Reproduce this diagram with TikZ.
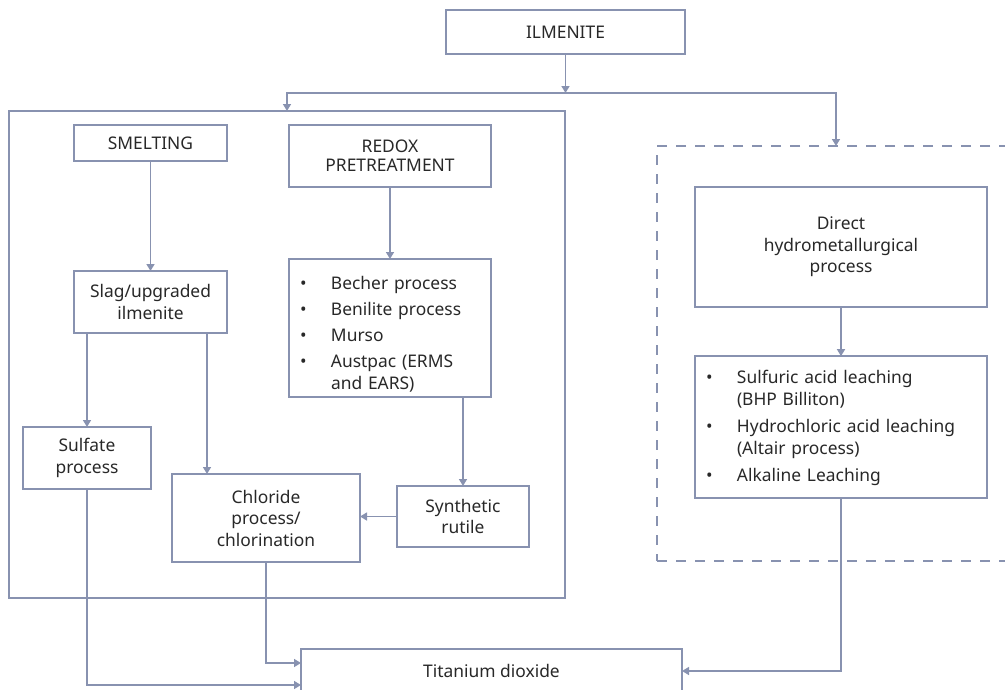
\documentclass[tikz,border=0pt]{standalone}
\usepackage{fontspec}
\setmainfont{Noto Sans}
\usetikzlibrary{arrows.meta,calc}
\definecolor{ln}{RGB}{136,146,176}
\definecolor{tx}{RGB}{40,40,40}
\newlength{\listind}\setlength{\listind}{32pt}
\newcommand{\bitem}[1]{\par\hangindent=\listind\hangafter=1\noindent\makebox[\listind][l]{\hspace{1pt}\textbullet}#1\par}
\begin{document}
\begin{tikzpicture}[x=1pt,y=-1pt,
  box/.style={draw=ln, line width=1.4pt, rectangle, inner sep=0pt, outer sep=0pt, align=center, text=tx, font=\fontsize{17.4}{21.5}\selectfont},
  listbox/.style={box, align=left, text width=#1, inner xsep=10pt},
  arr/.style={draw=ln, line width=1.5pt, -{Triangle[length=7pt,width=8pt]}},
  frame/.style={draw=ln, line width=2.8pt, rectangle, inner sep=0pt, outer sep=0pt}]
\useasboundingbox (0,0) rectangle (1005,689);
\clip (0,0) rectangle (1005,689);
% group frames
\node[frame, minimum width=556pt, minimum height=487pt] (grp) at (287,354.5) {};
\node[frame, dash pattern=on 10pt off 9pt, minimum width=358pt, minimum height=415pt] (hyd) at (836,353.5) {};
% nodes
\node[box, minimum width=239pt, minimum height=44pt] (ilm) at (565.5,32) {ILMENITE};
\node[box, minimum width=153pt, minimum height=36pt] (smelt) at (150.5,143) {SMELTING};
\node[box, minimum width=202pt, minimum height=62pt, font=\fontsize{17.4}{19}\selectfont] (redox) at (390,156) {REDOX\\PRETREATMENT};
\node[box, minimum width=153pt, minimum height=62pt] (slag) at (150.5,302) {Slag/upgraded\\ilmenite};
\node[listbox=182pt, minimum height=138pt] (rlist) at (390,328) {\setlength{\parskip}{4.5pt}\bitem{Becher process}\bitem{Benilite process}\bitem{Murso}\bitem{Austpac (ERMS\newline and EARS)}};
\node[box, minimum width=128pt, minimum height=62pt] (sulf) at (87,458) {Sulfate\\process};
\node[box, minimum width=188pt, minimum height=88pt] (chl) at (266,518) {Chloride\\process/\\chlorination};
\node[box, minimum width=132pt, minimum height=61pt] (synth) at (463,516.5) {Synthetic\\rutile};
\node[box, minimum width=292pt, minimum height=120pt] (direct) at (841,247) {Direct\\hydrometallurgical\\process};
\node[listbox=272pt, minimum height=138pt] (hlist) at (841,427) {\setlength{\parskip}{6pt}\bitem{Sulfuric acid leaching\newline (BHP Billiton)}\bitem{Hydrochloric acid leaching\newline (Altair process)}\bitem{Alkaline Leaching}\vspace{12pt}};
\node[box, minimum width=381pt, minimum height=44pt] (tio) at (491.5,671) {Titanium dioxide};
% connectors
\coordinate (j) at (565.5,93);
\draw[arr] (ilm.south) -- (j);
\draw[arr] (j) -| (grp.north);
\draw[arr] (j) -| (hyd.north);
\draw[arr] (smelt) -- (slag);
\draw[arr] (redox) -- (rlist);
\draw[arr] (sulf.north |- slag.south) -- (sulf.north);
\draw[arr] ([xshift=-20pt]slag.south east) -- ([xshift=-20pt]slag.south east |- chl.north);
\draw[arr] (synth.north |- rlist.south) -- (synth.north);
\draw[arr] (synth.west) -- (synth.west -| chl.east);
\draw[arr] (sulf.south) |- ($(tio.west)+(0,14)$);
\draw[arr] (chl.south) |- ($(tio.west)+(0,-8)$);
\draw[arr] (hlist.south) |- (tio.east);
\draw[arr] (direct) -- (hlist);
\end{tikzpicture}
\end{document}
